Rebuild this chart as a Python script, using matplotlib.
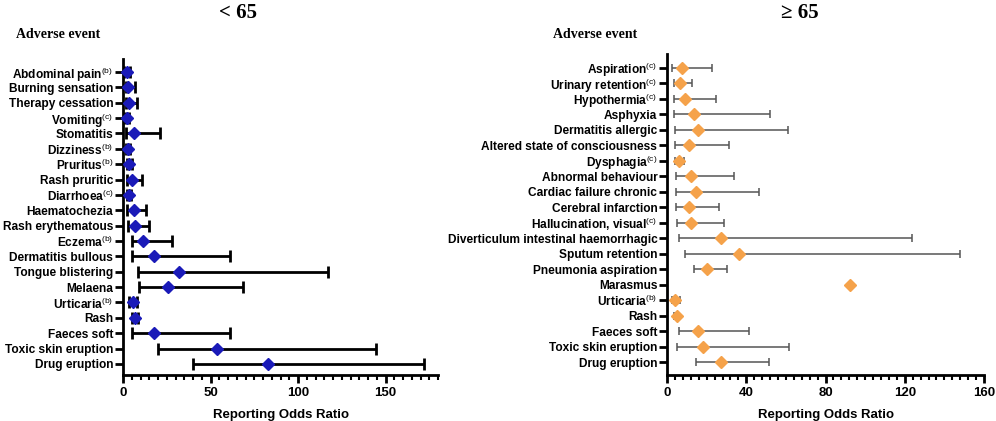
import numpy as np
import matplotlib
matplotlib.use('Agg')
import matplotlib.pyplot as plt
from matplotlib.ticker import MultipleLocator

plt.rcParams['font.family'] = ['Liberation Sans', 'DejaVu Sans']
plt.rcParams['mathtext.fontset'] = 'custom'
plt.rcParams['mathtext.rm'] = 'Liberation Sans'

# --- data: < 65 ---
young_events = ['Abdominal pain$^{\\rm (b)}$', 'Burning sensation', 'Therapy cessation',
                'Vomiting$^{\\rm (c)}$', 'Stomatitis', 'Dizziness$^{\\rm (b)}$',
                'Pruritus$^{\\rm (b)}$', 'Rash pruritic', 'Diarrhoea$^{\\rm (c)}$',
                'Haematochezia', 'Rash erythematous', 'Eczema$^{\\rm (b)}$',
                'Dermatitis bullous', 'Tongue blistering', 'Melaena',
                'Urticaria$^{\\rm (b)}$', 'Rash', 'Faeces soft', 'Toxic skin eruption',
                'Drug eruption']
young_ror = [2.1, 2.7, 3.2, 2.3, 6.3, 2.7, 3.2, 5.2, 3.6, 6.1,
             6.9, 11.7, 17.6, 32.0, 25.7, 5.6, 6.9, 17.6, 53.8, 83.1]
young_lo = [0.8, 1.5, 1.5, 1.3, 1.5, 1.5, 2.1, 2.1, 2.1, 2.5,
            2.7, 5.0, 5.2, 8.6, 9.2, 3.6, 5.4, 5.2, 19.9, 40.0]
young_hi = [4.0, 6.9, 7.8, 3.6, 21.3, 4.0, 4.9, 10.9, 4.7, 13.2,
            14.9, 28.0, 61.1, 117.2, 68.6, 8.0, 8.8, 61.1, 144.6, 172.0]

# --- data: >= 65 ---
old_events = ['Aspiration$^{\\rm (c)}$', 'Urinary retention$^{\\rm (c)}$',
              'Hypothermia$^{\\rm (c)}$', 'Asphyxia', 'Dermatitis allergic',
              'Altered state of consciousness', 'Dysphagia$^{\\rm (c)}$',
              'Abnormal behaviour', 'Cardiac failure chronic', 'Cerebral infarction',
              'Hallucination, visual$^{\\rm (c)}$', 'Diverticulum intestinal haemorrhagic',
              'Sputum retention', 'Pneumonia aspiration', 'Marasmus',
              'Urticaria$^{\\rm (b)}$', 'Rash', 'Faeces soft', 'Toxic skin eruption',
              'Drug eruption']
old_ror = [7.6, 6.6, 8.9, 13.6, 15.8, 11.3, 6.2, 12.1, 14.8, 11.1,
           12.1, 27.4, 36.5, 20.4, 92.4, 3.9, 4.9, 15.6, 18.2, 27.1]
old_lo = [2.5, 3.4, 3.4, 3.5, 4.0, 4.0, 4.2, 4.4, 4.5, 4.7,
          5.0, 6.2, 9.1, 13.8, np.nan, 2.5, 3.5, 5.9, 5.2, 14.5]
old_hi = [22.7, 12.8, 24.6, 52.2, 61.2, 31.3, 8.7, 33.7, 46.6, 26.2,
          28.8, 123.8, 147.9, 30.1, np.nan, 6.7, 6.2, 41.2, 61.4, 51.3]

fig = plt.figure(figsize=(9.96, 4.21), dpi=100)
ax1 = fig.add_axes([0.1235, 0.1093, 0.3163, 0.7506])
ax2 = fig.add_axes([0.6697, 0.1093, 0.3183, 0.7625])


def forest(ax, events, ror, lo, hi, mcolor, ecolor, elw, cap, ms, xmax, major, ylim):
    y = np.arange(len(events))
    ror = np.array(ror)
    err = np.vstack([ror - np.array(lo), np.array(hi) - ror])
    ok = ~np.isnan(err).any(axis=0)
    ax.errorbar(ror[ok], y[ok], xerr=err[:, ok], fmt='none', ecolor=ecolor,
                elinewidth=elw, capsize=cap, capthick=elw, zorder=2)
    ax.plot(ror, y, 'D', color=mcolor, ms=ms, mec=mcolor, zorder=3, clip_on=False)
    ax.set_yticks(y)
    ax.set_yticklabels(events, fontsize=8.6, fontweight='bold')
    ax.set_ylim(*ylim)
    ax.set_xlim(0, xmax)
    ax.xaxis.set_major_locator(MultipleLocator(major))
    ax.xaxis.set_minor_locator(MultipleLocator(major / 10))
    for lab in ax.get_xticklabels():
        lab.set_fontweight('bold')
        lab.set_fontsize(9.5)
    ax.spines['top'].set_visible(False)
    ax.spines['right'].set_visible(False)
    ax.spines['left'].set_linewidth(2)
    ax.spines['bottom'].set_linewidth(2)
    ax.tick_params(axis='y', length=6, width=2, pad=1)
    ax.tick_params(axis='x', which='major', length=6, width=2, pad=3)
    ax.tick_params(axis='x', which='minor', length=3.5, width=1.5)
    ax.set_xlabel('Reporting Odds Ratio', fontsize=9.5, fontweight='bold', labelpad=7)


forest(ax1, young_events, young_ror, young_lo, young_hi, '#1a1ab8', 'black',
       2, 4, 6, 180, 50, (19.72, -0.85))
forest(ax2, old_events, old_ror, old_lo, old_hi, '#f5a24a', '#555555',
       1.1, 3, 6.5, 160, 40, (19.81, -0.88))

serif = ['Liberation Serif', 'DejaVu Serif']
fig.text(0.239, 0.968, '< 65', ha='center', va='center', fontsize=15,
         fontweight='bold', family=serif)
fig.text(0.803, 0.968, '\u2265 65', ha='center', va='center', fontsize=15,
         fontweight='bold', family=serif)
fig.text(0.016, 0.918, 'Adverse event', ha='left', va='center', fontsize=10,
         fontweight='bold', family=serif)
fig.text(0.555, 0.918, 'Adverse event', ha='left', va='center', fontsize=10,
         fontweight='bold', family=serif)

fig.savefig('out.png', dpi=100)
